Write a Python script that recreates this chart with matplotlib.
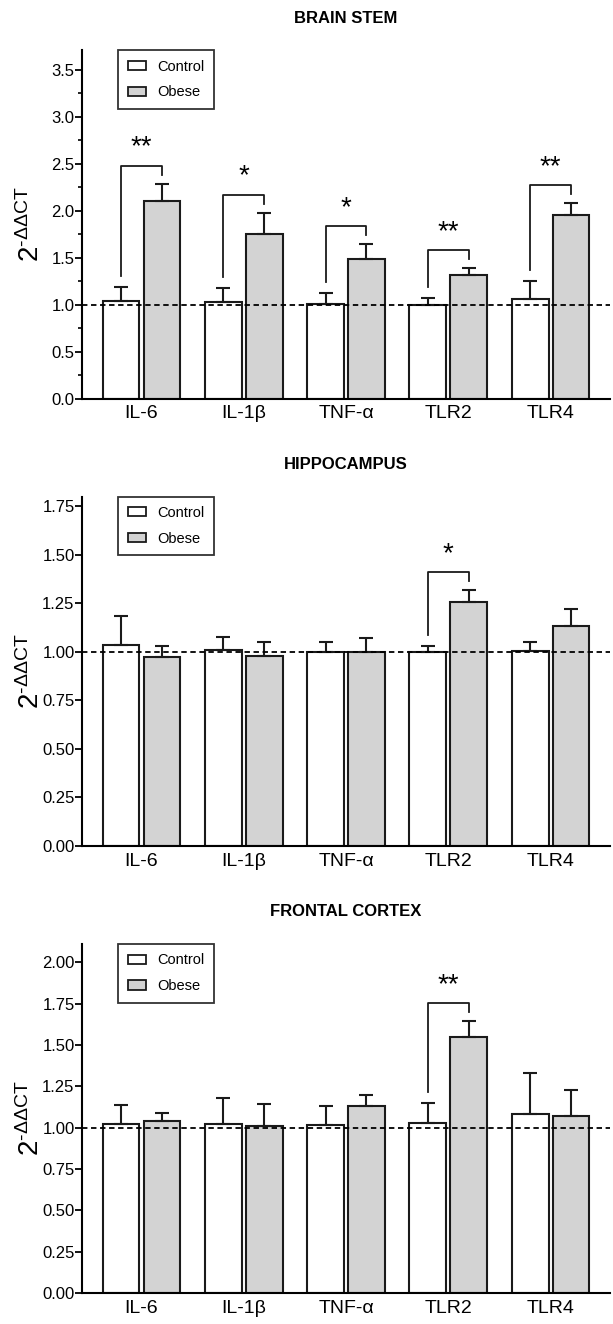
import numpy as np
import matplotlib
matplotlib.use("Agg")
import matplotlib.pyplot as plt
from matplotlib.ticker import MultipleLocator, FormatStrFormatter
from matplotlib.patches import Patch

plt.rcParams['font.family'] = ['Liberation Sans', 'DejaVu Sans']
plt.rcParams['mathtext.fontset'] = 'custom'
plt.rcParams['mathtext.rm'] = 'Liberation Sans'
plt.rcParams['mathtext.default'] = 'regular'

genes = ['IL-6', 'IL-1β', 'TNF-α', 'TLR2', 'TLR4']

# brain stem
bs_ctrl = [1.035, 1.03, 1.01, 1.00, 1.065]
bs_ctrl_err = [0.155, 0.15, 0.11, 0.07, 0.185]
bs_obese = [2.10, 1.755, 1.49, 1.32, 1.96]
bs_obese_err = [0.19, 0.225, 0.155, 0.07, 0.125]
bs_sig = ['**', '*', '*', '**', '**']

# hippocampus
hc_ctrl = [1.036, 1.007, 1.00, 0.998, 1.003]
hc_ctrl_err = [0.15, 0.07, 0.05, 0.032, 0.047]
hc_obese = [0.976, 0.981, 1.00, 1.259, 1.132]
hc_obese_err = [0.055, 0.069, 0.07, 0.059, 0.088]
hc_sig = ['', '', '', '*', '']

# frontal cortex
fc_ctrl = [1.022, 1.024, 1.014, 1.028, 1.085]
fc_ctrl_err = [0.115, 0.156, 0.119, 0.119, 0.245]
fc_obese = [1.04, 1.008, 1.129, 1.545, 1.073]
fc_obese_err = [0.05, 0.135, 0.07, 0.099, 0.156]
fc_sig = ['', '', '', '**', '']

panels = [
    ("BRAIN STEM", bs_ctrl, bs_ctrl_err, bs_obese, bs_obese_err, bs_sig, 3.71, 0.5, '%.1f'),
    ("HIPPOCAMPUS", hc_ctrl, hc_ctrl_err, hc_obese, hc_obese_err, hc_sig, 1.80, 0.25, '%.2f'),
    ("FRONTAL CORTEX", fc_ctrl, fc_ctrl_err, fc_obese, fc_obese_err, fc_sig, 2.11, 0.25, '%.2f'),
]
# axes boxes [left, bottom, width, height] in figure fraction
boxes = [
    [0.134, 0.699, 0.861, 0.263],
    [0.134, 0.361, 0.861, 0.264],
    [0.134, 0.0234, 0.861, 0.2636],
]

EDGE = '#1a1a1a'
GREY = '#d3d3d3'
LW = 1.5

fig = plt.figure(figsize=(6.13, 13.24), dpi=100)
x = np.arange(len(genes))
w = 0.36
off = 0.2

for (title, ctrl, ctrl_err, ob, ob_err, sig, ymax, step, fmt), box in zip(panels, boxes):
    ax = fig.add_axes(box)
    ax.set_xlim(-0.58, 4.58)
    ax.set_ylim(0, ymax)
    px = fig.get_figheight() * fig.dpi * box[3] / ymax  # pixels per data unit

    ax.bar(x - off, ctrl, w, color='white', edgecolor=EDGE, linewidth=LW, zorder=2)
    ax.bar(x + off, ob, w, color=GREY, edgecolor=EDGE, linewidth=LW, zorder=2)
    ax.errorbar(x - off, ctrl, yerr=[np.zeros(len(ctrl)), ctrl_err], fmt='none',
                ecolor=EDGE, elinewidth=LW, capsize=5, capthick=LW, zorder=3)
    ax.errorbar(x + off, ob, yerr=[np.zeros(len(ob)), ob_err], fmt='none',
                ecolor=EDGE, elinewidth=LW, capsize=5, capthick=LW, zorder=3)
    ax.axhline(1.0, color='black', linestyle=(0, (3, 2)), linewidth=1.3, zorder=4)

    # significance brackets
    for i, s in enumerate(sig):
        if not s:
            continue
        c_top = ctrl[i] + ctrl_err[i]
        o_top = ob[i] + ob_err[i]
        left_bot = c_top + 11 / px
        right_bot = o_top + 9 / px
        top = max(left_bot, right_bot) + 9 / px
        ax.plot([x[i] - off, x[i] - off, x[i] + off, x[i] + off],
                [left_bot, top, top, right_bot], color=EDGE, linewidth=1.3, zorder=3)
        ax.text(x[i], top + 18 / px, s, ha='center', va='center', fontsize=20, color='black')

    ax.spines['top'].set_visible(False)
    ax.spines['right'].set_visible(False)
    ax.spines['left'].set_linewidth(LW)
    ax.spines['bottom'].set_linewidth(LW)
    ax.yaxis.set_major_locator(MultipleLocator(step))
    ax.yaxis.set_major_formatter(FormatStrFormatter(fmt))
    if step == 0.5:
        ax.yaxis.set_minor_locator(MultipleLocator(0.25))
        ax.tick_params(axis='y', which='minor', length=3, width=1.2)
    ax.tick_params(axis='y', which='major', length=5, width=1.3, labelsize=12, pad=0.5)
    ax.set_xticks(x)
    ax.set_xticklabels(genes)
    ax.tick_params(axis='x', length=0, labelsize=14, pad=5)

    ax.set_title(title, fontsize=12, fontweight='bold', pad=20)
    ax.set_ylabel(r'$2^{\text{-}\Delta\Delta CT}$', fontsize=20)
    ax.yaxis.set_label_coords(-0.07, 0.5)

    leg = ax.legend(handles=[Patch(facecolor='white', edgecolor=EDGE, linewidth=1.3, label='Control'),
                             Patch(facecolor=GREY, edgecolor=EDGE, linewidth=1.3, label='Obese')],
                    loc='upper left', bbox_to_anchor=(0.068, 1.0), borderaxespad=0,
                    fontsize=10.5, frameon=True, fancybox=False, edgecolor='black',
                    handlelength=1.3, handleheight=0.6, borderpad=0.65, labelspacing=0.8,
                    handletextpad=0.75)
    leg.get_frame().set_linewidth(1.3)

fig.savefig('out.png', dpi=100)
